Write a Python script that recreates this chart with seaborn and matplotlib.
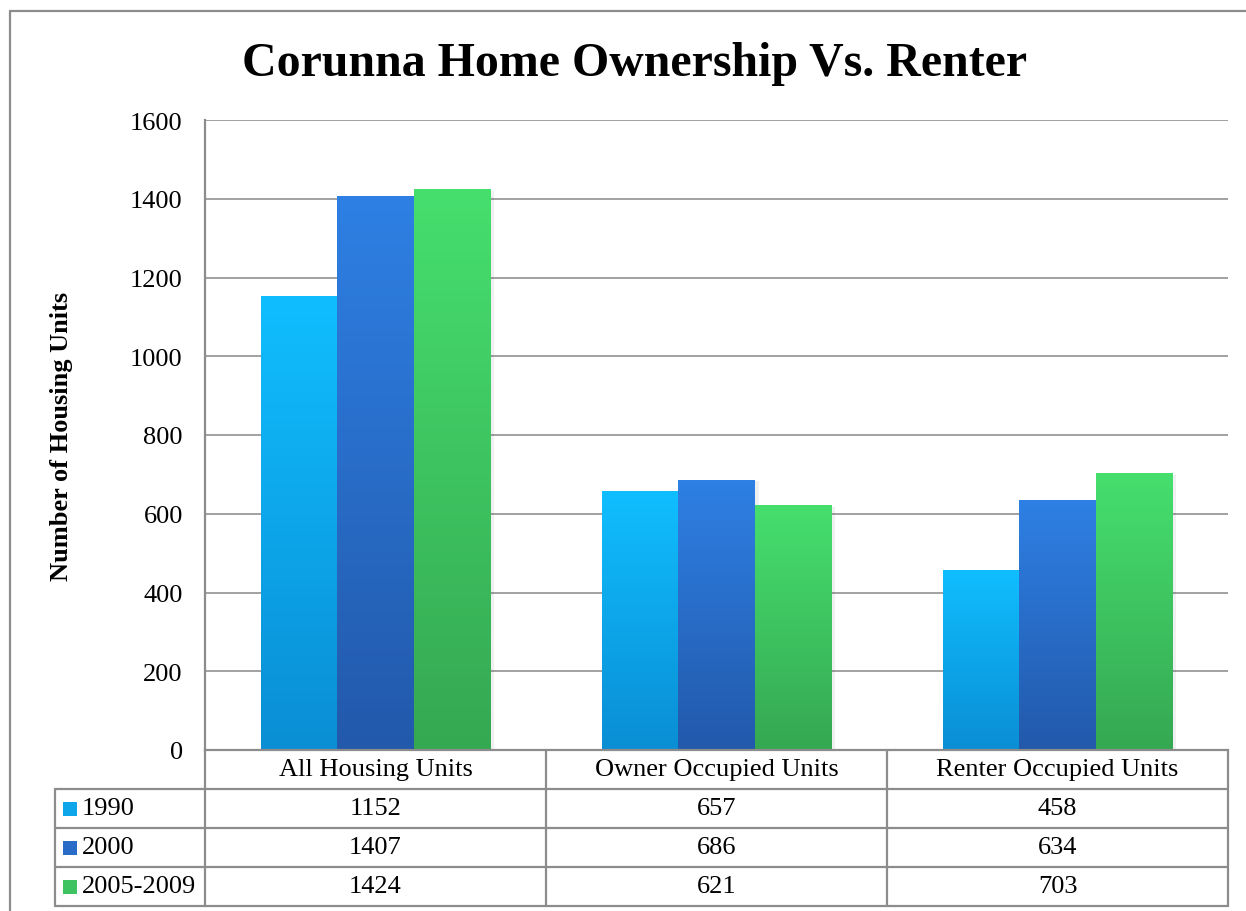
import numpy as np
import pandas as pd
import matplotlib.pyplot as plt
import matplotlib.colors as mcolors
from matplotlib.patches import Rectangle
from matplotlib.lines import Line2D
import matplotlib.transforms as mtransforms
import seaborn as sns

categories = ['All Housing Units', 'Owner Occupied Units', 'Renter Occupied Units']
periods = ['1990', '2000', '2005-2009']
units_1990 = [1152, 657, 458]
units_2000 = [1407, 686, 634]
units_2005_2009 = [1424, 621, 703]

# top / bottom colours of the gradient fill for each series
top_colors = ['#10BEFF', '#2E80E4', '#46DF6E']
bottom_colors = ['#0A8ED4', '#2259AB', '#35A852']

df = pd.DataFrame({
    'category': categories * 3,
    'period': np.repeat(periods, 3),
    'units': units_1990 + units_2000 + units_2005_2009,
})

sns.set_style('white')
plt.rcParams['font.family'] = ['Liberation Serif', 'DejaVu Serif']
plt.rcParams['text.color'] = 'black'
plt.rcParams['ytick.color'] = 'black'

fig = plt.figure(figsize=(12.46, 9.12), dpi=100)
ax = fig.add_axes([205 / 1246, 1 - 751 / 912, 1023 / 1246, 630 / 912])

sns.barplot(data=df, x='category', y='units', hue='period', palette=top_colors,
            saturation=1, width=0.67, ax=ax, legend=False, order=categories,
            hue_order=periods, edgecolor='none', linewidth=0)

# gradient fill, clipped to each bar
grad = np.linspace(0, 1, 256).reshape(-1, 1)
for i, cont in enumerate(ax.containers):
    cmap = mcolors.LinearSegmentedColormap.from_list('g%d' % i, [bottom_colors[i], top_colors[i]])
    for bar in cont:
        x0, y0 = bar.get_x(), bar.get_y()
        w, h = bar.get_width(), bar.get_height()
        # soft shadow to the right
        ax.add_patch(Rectangle((x0 + 0.012, y0), w, h - 4, color='#000000', alpha=0.06, zorder=1.5, lw=0))
        im = ax.imshow(grad, cmap=cmap, origin='lower', aspect='auto',
                       extent=[x0, x0 + w, y0, y0 + h], zorder=2.5)
        im.set_clip_path(bar)
        bar.set_zorder(2)

ax.set_xlim(-0.5, 2.5)
ax.set_ylim(0, 1600)
ax.set_yticks(range(0, 1601, 200))
ax.yaxis.grid(True, color='#9A9A9A', linewidth=1.3)
ax.set_axisbelow(True)
ax.tick_params(axis='y', length=0, pad=16, labelsize=19)
ax.tick_params(axis='x', length=0, labelbottom=False)
ax.set_xlabel('')
ax.set_ylabel('')
for s in ['top', 'right']:
    ax.spines[s].set_visible(False)
for s in ['left', 'bottom']:
    ax.spines[s].set_color('#8C8C8C')
    ax.spines[s].set_linewidth(1.6)

# data table under the plot
tr = mtransforms.blended_transform_factory(ax.transData, ax.transAxes)
row_h = 39 / 630
line_kw = dict(color='#8C8C8C', linewidth=1.6, transform=tr, clip_on=False)
lab_left = -0.5 - 150 / 341
n_rows = len(periods)
bottom = -row_h * (n_rows + 1)
for k in range(len(categories) + 1):
    ax.add_line(Line2D([k - 0.5, k - 0.5], [0, bottom], **line_kw))
ax.add_line(Line2D([lab_left, lab_left], [-row_h, bottom], **line_kw))
for r in range(1, n_rows + 2):
    ax.add_line(Line2D([lab_left, len(categories) - 0.5], [-row_h * r] * 2, **line_kw))

for j, cat in enumerate(categories):
    ax.text(j, -row_h * 0.5, cat, transform=tr, ha='center', va='center', fontsize=19)

series = [units_1990, units_2000, units_2005_2009]
sq_w = 14 / 341
sq_h = 14 / 630
for r, (per, vals) in enumerate(zip(periods, series)):
    yc = -row_h * (r + 1.5)
    ax.add_patch(Rectangle((lab_left + 8 / 341, yc - sq_h / 2), sq_w, sq_h, transform=tr,
                           clip_on=False, color=mcolors.to_hex(
                               (np.array(mcolors.to_rgb(top_colors[r])) + np.array(mcolors.to_rgb(bottom_colors[r]))) / 2),
                           lw=0))
    ax.text(lab_left + 27 / 341, yc, per, transform=tr, ha='left', va='center', fontsize=19)
    for j, v in enumerate(vals):
        ax.text(j, yc, str(v), transform=tr, ha='center', va='center', fontsize=19)

fig.text(635 / 1246, 1 - 64 / 912, 'Corunna Home Ownership Vs. Renter',
         ha='center', va='center', fontsize=34.5, fontweight='bold')
fig.text(62 / 1246, 1 - 436 / 912, 'Number of Housing Units', rotation=90,
         ha='center', va='center', fontsize=19, fontweight='bold')

# outer chart border
fig.add_artist(Line2D([10 / 1246, 10 / 1246], [0, 1 - 12 / 912], color='#8C8C8C', lw=1.6))
fig.add_artist(Line2D([10 / 1246, 1], [1 - 12 / 912, 1 - 12 / 912], color='#8C8C8C', lw=1.6))

fig.savefig('out.png', dpi=100, facecolor='white')
